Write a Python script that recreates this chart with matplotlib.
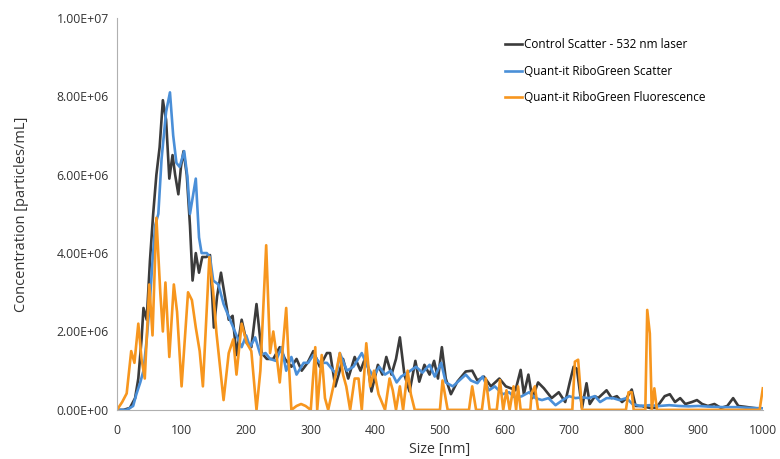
import matplotlib.pyplot as plt
from matplotlib.ticker import FuncFormatter, MultipleLocator

# values, size in nm, concentration in 1e6 particles/mL
ctrl_x = [0, 10, 20, 28, 33, 38, 41, 46, 51, 56, 61, 66, 71, 76, 81, 86, 90, 95, 99, 103,
          108, 113, 117, 122, 127, 132, 138, 144, 150, 155, 161, 167, 173, 179, 185, 193, 201,
          208, 216, 224, 232, 242, 252, 260, 270, 278, 286, 295, 304, 314, 325, 330, 338, 350,
          358, 368, 377, 386, 394, 404, 411, 417, 425, 432, 438, 445, 453, 462, 468, 476, 484,
          491, 497, 503, 509, 517, 527, 540, 550, 558, 568, 579, 592, 602, 610, 617, 625, 630,
          637, 643, 652, 661, 673, 684, 694, 701, 707, 712, 720, 727, 732, 740, 745, 758, 766,
          774, 782, 789, 797, 803, 812, 825, 835, 848, 856, 864, 872, 880, 890, 898, 906, 915,
          925, 935, 945, 954, 962, 972, 985, 995]
ctrl_y = [0, 0, 0.05, 0.3, 0.8, 1.8, 2.6, 2.3, 3.8, 5.0, 6.0, 6.7, 7.9, 7.4, 5.9, 6.5, 6.0, 5.5, 6.2, 6.6,
          6.0, 4.7, 3.3, 4.0, 3.5, 3.9, 3.9, 3.95, 2.1, 2.9, 3.5, 2.9, 2.3, 2.4, 1.4, 2.3, 1.7,
          1.6, 2.7, 1.45, 1.3, 1.3, 1.6, 1.3, 1.1, 1.3, 1.0, 1.2, 1.5, 1.1, 1.45, 1.45, 0.6, 1.3,
          0.8, 1.35, 1.0, 1.4, 0.47, 1.15, 0.9, 1.35, 0.9, 1.3, 1.85, 0.9, 0.47, 1.25, 0.72, 1.15, 0.9,
          1.25, 0.8, 1.6, 0.8, 0.4, 0.72, 0.98, 1.0, 0.75, 0.85, 0.6, 0.8, 0.6, 0.55, 0.5, 1.02, 0.4,
          0.9, 0.3, 0.7, 0.55, 0.3, 0.45, 0.2, 0.7, 1.1, 1.05, 0.05, 0.68, 0.15, 0.35, 0.3, 0.5, 0.3,
          0.35, 0.2, 0.3, 0.52, 0.1, 0.1, 0.05, 0.05, 0.35, 0.4, 0.2, 0.3, 0.15, 0.2, 0.25, 0.15, 0.1,
          0.15, 0.05, 0.1, 0.3, 0.1, 0.08, 0.05, 0.03]

rg_scat_x = [0, 15, 25, 30, 36, 41, 46, 51, 55, 59, 64, 69, 76, 82, 87, 92, 97, 104, 109, 113,
             118, 122, 127, 131, 139, 144, 149, 157, 165, 175, 185, 193, 200, 206, 214, 222, 230,
             237, 246, 255, 262, 270, 278, 289, 296, 304, 314, 325, 335, 340, 345, 356, 366, 379,
             388, 397, 406, 415, 424, 433, 440, 450, 463, 473, 484, 492, 502, 509, 520, 530, 540,
             548, 558, 566, 576, 585, 597, 607, 617, 627, 638, 648, 658, 668, 679, 690, 700, 710,
             720, 730, 740, 748, 758, 768, 778, 789, 798, 810, 825, 840, 855, 870, 885, 900, 920,
             940, 960, 980, 1000]
rg_scat_y = [0, 0, 0.1, 0.4, 0.7, 1.0, 1.8, 2.8, 3.8, 4.7, 5.0, 6.4, 7.6, 8.1, 7.0, 6.3, 6.2, 6.6, 5.95, 5.0,
             5.5, 5.9, 4.4, 4.0, 4.0, 3.9, 3.3, 3.2, 2.7, 2.3, 1.9, 1.6, 1.9, 1.6, 1.85, 1.4, 1.45,
             1.3, 1.25, 1.6, 1.0, 1.35, 0.9, 1.2, 1.2, 1.4, 1.2, 1.2, 1.0, 0.9, 1.45, 1.0, 1.1, 1.45,
             1.1, 0.85, 1.1, 0.9, 1.0, 0.7, 0.85, 0.95, 1.1, 0.95, 1.15, 0.85, 1.2, 0.7, 0.6, 0.75, 0.9,
             0.75, 0.68, 0.85, 0.5, 0.6, 0.4, 0.45, 0.3, 0.35, 0.45, 0.3, 0.25, 0.3, 0.12, 0.25, 0.35, 0.3,
             0.32, 0.3, 0.35, 0.2, 0.3, 0.3, 0.25, 0.3, 0.15, 0.1, 0.12, 0.1, 0.12, 0.1, 0.09, 0.1, 0.08,
             0.07, 0.07, 0.05, 0.04]

rg_fl_x = [0, 8, 15, 22, 27, 33, 38, 43, 50, 55, 61, 67, 71, 75, 81, 88, 93, 100, 110, 116,
           122, 128, 133, 143, 149, 154, 165, 173, 180, 185, 193, 201, 208, 216, 222, 231, 237,
           242, 247, 252, 262, 266, 270, 278, 285, 292, 300, 307, 310, 317, 322, 327, 335, 345,
           350, 355, 361, 368, 374, 379, 386, 392, 398, 405, 415, 422, 427, 432, 438, 443, 450,
           455, 461, 500, 504, 512, 545, 550, 556, 565, 571, 577, 588, 593, 598, 603, 608, 614,
           618, 621, 625, 640, 642, 647, 652, 705, 709, 714, 720, 788, 792, 797, 800, 818, 821,
           825, 828, 832, 836, 995, 1000]
rg_fl_y = [0, 0.2, 0.42, 1.5, 1.2, 2.2, 1.3, 0.8, 3.2, 1.9, 4.9, 3.0, 2.0, 3.25, 1.35, 3.2, 2.5, 0.6, 3.0, 2.8,
           2.1, 1.5, 0.6, 3.9, 3.0, 1.96, 0.25, 1.45, 1.8, 0.9, 2.2, 1.7, 1.5, 0, 1.0, 4.2, 1.45,
           2.0, 1.4, 0.7, 2.6, 1.2, 0, 0.1, 0.15, 0.1, 0, 1.6, 0, 1.4, 0.3, 0, 0.6, 1.45,
           0.9, 0.6, 0, 0.8, 0.8, 0, 1.7, 0.6, 1.0, 0.4, 0, 0.8, 0.5, 0, 0.6, 0, 1.0,
           0.4, 0, 0, 0.75, 0, 0, 0.6, 0, 0, 0.8, 0, 0, 0.76, 0, 0.5, 0, 0.6,
           0, 0.6, 0, 0, 0.43, 0.6, 0, 0, 1.23, 1.28, 0, 0, 0.45, 0.45, 0, 0, 2.55,
           1.95, 0, 0.55, 0, 0, 0.55]

plt.rcParams['font.family'] = ['Open Sans', 'DejaVu Sans']
fig = plt.figure(figsize=(7.8, 4.59), dpi=100)
ax = fig.add_axes([0.15, 0.107, 0.828, 0.854])

ax.plot(ctrl_x, [v * 1e6 for v in ctrl_y], color='#3b3b3b', lw=1.9, label='Control Scatter - 532 nm laser')
ax.plot(rg_scat_x, [v * 1e6 for v in rg_scat_y], color='#4a8fd8', lw=1.9, label='Quant-it RiboGreen Scatter')
ax.plot(rg_fl_x, [v * 1e6 for v in rg_fl_y], color='#f7961e', lw=1.9, label='Quant-it RiboGreen Fluorescence')

ax.set_xlim(0, 1000)
ax.set_ylim(0, 1e7)
ax.xaxis.set_major_locator(MultipleLocator(100))
ax.yaxis.set_major_locator(MultipleLocator(2e6))
ax.yaxis.set_major_formatter(FuncFormatter(lambda v, p: f"{v:.2E}"))
for s in ['top', 'right']:
    ax.spines[s].set_visible(False)
for s in ['left', 'bottom']:
    ax.spines[s].set_color('#b0b0b0')
ax.tick_params(length=0, labelsize=8.8, colors='#333333', pad=6)
ax.tick_params(axis='x', pad=10)
ax.set_xlabel('Size [nm]', fontsize=10.3, color='#333333', labelpad=4)
ax.set_ylabel('Concentration [particles/mL]', fontsize=10.5, color='#333333', labelpad=20)

ax.legend(loc='upper left', bbox_to_anchor=(0.585, 0.975), frameon=False, fontsize=8.5,
          handlelength=1.4, handletextpad=0.2, labelspacing=1.15)

plt.savefig('out.png')
